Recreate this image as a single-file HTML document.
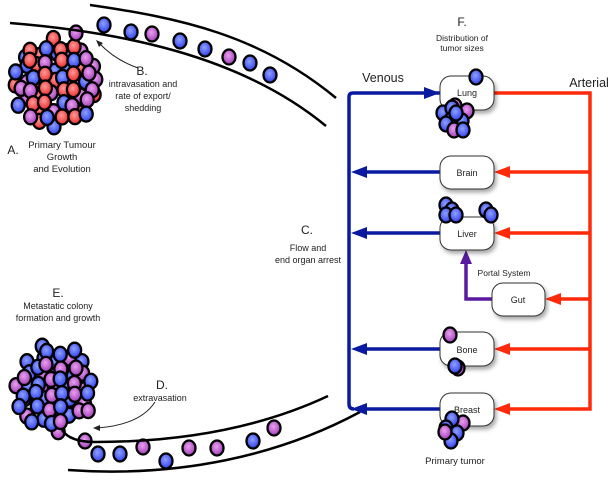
<!DOCTYPE html>
<html><head><meta charset="utf-8"><style>
html,body{margin:0;padding:0;background:#fff;width:614px;height:483px;overflow:hidden}
svg text{font-family:"Liberation Sans",sans-serif;fill:#222}
</style></head><body>
<svg id="s" width="614" height="483" viewBox="0 0 614 483" xmlns="http://www.w3.org/2000/svg">
<defs>
<radialGradient id="gb" cx="0.45" cy="0.4" r="0.6"><stop offset="0" stop-color="#8fa0ff"/><stop offset="1" stop-color="#2f3fee"/></radialGradient>
<radialGradient id="gp" cx="0.45" cy="0.4" r="0.6"><stop offset="0" stop-color="#e9a0f0"/><stop offset="1" stop-color="#a23cb8"/></radialGradient>
<radialGradient id="gr" cx="0.45" cy="0.4" r="0.6"><stop offset="0" stop-color="#ff9a9a"/><stop offset="1" stop-color="#ee2a2a"/></radialGradient>
<filter id="sh" x="-20%" y="-20%" width="150%" height="160%"><feDropShadow dx="2" dy="3" stdDeviation="2" flood-opacity="0.35"/></filter>
</defs>
<g id="cells"></g>
<!-- upper vessel -->
<path d="M90,5 C180,18 260,35 336,98" fill="none" stroke="#000" stroke-width="2.5"/>
<path d="M10,23 C120,32 240,55 326,126" fill="none" stroke="#000" stroke-width="2.5"/>
<!-- lower vessel -->
<path d="M62,430 Q70,442 95,442 Q230,442 328,396" fill="none" stroke="#000" stroke-width="2.5"/>
<path d="M68,470 C180,478 280,455 360,412" fill="none" stroke="#000" stroke-width="2.5"/>
<!-- small arrows -->
<path d="M138,68 Q115,60 99,43" fill="none" stroke="#222" stroke-width="1"/>
<path d="M96,40 L103,43 L99,47 Z" fill="#222"/>
<path d="M155,402 Q140,425 97,428" fill="none" stroke="#222" stroke-width="1"/>
<path d="M93,428 L100,425 L100,431 Z" fill="#222"/>
<!-- venous -->
<g stroke="#0a1aa0" stroke-width="3.5" fill="none">
<path d="M440,93 L353,93 Q349,93 349,97 L349,404 Q349,409 354,409"/>
<line x1="440" y1="172" x2="362" y2="172"/>
<line x1="440" y1="233" x2="362" y2="233"/>
<line x1="440" y1="349" x2="362" y2="349"/>
<line x1="440" y1="409" x2="362" y2="409"/>
</g>
<g fill="#0a1aa0">
<path d="M440,93 L424,87 L424,99 Z"/>
<path d="M351,172 L367,166 L367,178 Z"/>
<path d="M351,233 L367,227 L367,239 Z"/>
<path d="M351,349 L367,343 L367,355 Z"/>
<path d="M351,409 L367,403 L367,415 Z"/>
</g>
<!-- arterial -->
<g stroke="#ff2a0a" stroke-width="3.5" fill="none">
<path d="M494,93 L590,93 L590,409 L505,409"/>
<line x1="590" y1="172" x2="505" y2="172"/>
<line x1="590" y1="233" x2="505" y2="233"/>
<line x1="590" y1="299" x2="556" y2="299"/>
<line x1="590" y1="349" x2="505" y2="349"/>
</g>
<g fill="#ff2a0a">
<path d="M494,172 L510,166 L510,178 Z"/>
<path d="M494,233 L510,227 L510,239 Z"/>
<path d="M545,299 L561,293 L561,305 Z"/>
<path d="M494,349 L510,343 L510,355 Z"/>
<path d="M494,409 L510,403 L510,415 Z"/>
</g>
<!-- portal -->
<path d="M492,299 L466,299 L466,262" fill="none" stroke="#5a1aa0" stroke-width="3.5"/>
<path d="M466,250 L460,264 L472,264 Z" fill="#5a1aa0"/>
<!-- boxes -->
<g fill="#fff" stroke="#333" stroke-width="1" filter="url(#sh)">
<rect x="440" y="76" width="54" height="34" rx="11"/>
<rect x="440" y="156" width="54" height="33" rx="11"/>
<rect x="440" y="217" width="54" height="33" rx="11"/>
<rect x="492" y="283" width="53" height="33" rx="11"/>
<rect x="440" y="332" width="54" height="34" rx="11"/>
<rect x="440" y="393" width="54" height="33" rx="11"/>
</g>
<g font-size="9" text-anchor="middle">
<text x="467" y="96">Lung</text>
<text x="467" y="176">Brain</text>
<text x="467" y="237">Liver</text>
<text x="518" y="303">Gut</text>
<text x="467" y="353">Bone</text>
<text x="467" y="413">Breast</text>
</g>
<g id="cells2"></g>
<!-- labels -->
<g text-anchor="middle">
<text x="383" y="82" font-size="12.5">Venous</text>
<text x="589" y="87" font-size="12.5">Arterial</text>
<text x="462" y="26" font-size="12">F.</text>
<text x="462" y="41" font-size="8.5">Distribution of</text>
<text x="462" y="51" font-size="8.5">tumor sizes</text>
<text x="307" y="234" font-size="12">C.</text>
<text x="308" y="251" font-size="9">Flow and</text>
<text x="308" y="263" font-size="9">end organ arrest</text>
<text x="504" y="276" font-size="8.5">Portal System</text>
<text x="455" y="464" font-size="9.5">Primary tumor</text>
<text x="142" y="75" font-size="12">B.</text>
<text x="143" y="87" font-size="9">intravasation and</text>
<text x="143" y="99" font-size="9">rate of export/</text>
<text x="143" y="111" font-size="9">shedding</text>
<text x="62" y="148" font-size="9.5">Primary Tumour</text>
<text x="62" y="160" font-size="9.5">Growth</text>
<text x="62" y="172" font-size="9.5">and Evolution</text>
<text x="13" y="154" font-size="12">A.</text>
<text x="58" y="297" font-size="12">E.</text>
<text x="58" y="309" font-size="9">Metastatic colony</text>
<text x="58" y="321" font-size="9">formation and growth</text>
<text x="162" y="389" font-size="12">D.</text>
<text x="160" y="401" font-size="9">extravasation</text>
</g>
</svg>
<script>
(function(){
var NS="http://www.w3.org/2000/svg";
function cell(g,x,y,c){var e=document.createElementNS(NS,"ellipse");e.setAttribute("cx",x);e.setAttribute("cy",y);e.setAttribute("rx",6.5);e.setAttribute("ry",7.5);e.setAttribute("fill","url(#g"+c+")");e.setAttribute("stroke","#000");e.setAttribute("stroke-width","2.3");g.appendChild(e);}
var g=document.getElementById("cells"),g2=document.getElementById("cells2");
var seed=7;function rnd(){seed=(seed*9301+49297)%233280;return seed/233280;}
function cluster(cx,cy,R,cols){
 for(var layer=0;layer<2;layer++)
 for(var y=cy-R;y<=cy+R;y+=14)for(var x=cx-R;x<=cx+R;x+=14){
  var ox=x+(layer?7:0)+(rnd()-0.5)*7,oy=y+(layer?7:0)+(rnd()-0.5)*7;
  var dx=ox-cx,dy=oy-cy;if(dx*dx+dy*dy>R*R*(0.85+rnd()*0.3))continue;
  cell(g,ox,oy,cols[Math.floor(rnd()*cols.length)]);
 }}
cluster(56,84,44,["r","p","b","r","p"]);
cluster(56,388,42,["b","p"]);
var up=[[76,33,"p"],[104,25,"b"],[131,32,"b"],[152,34,"p"],[180,41,"b"],[205,49,"b"],[229,57,"p"],[250,63,"b"],[270,75,"b"]];
var lo=[[85,441,"p"],[98,454,"b"],[120,454,"b"],[143,447,"p"],[166,461,"b"],[189,448,"p"],[217,448,"p"],[253,441,"b"],[274,428,"p"]];
up.concat(lo).forEach(function(a){cell(g,a[0],a[1],a[2]);});
var org=[[476,77,"b"],[455,106,"p"],[467,111,"p"],[443,113,"b"],[452,108,"b"],[462,121,"b"],[451,120,"b"],[446,124,"b"],[454,130,"p"],[463,130,"b"],[456,113,"b"],
[446,205,"b"],[452,210,"b"],[446,215,"b"],[456,215,"b"],[486,210,"b"],[491,215,"b"],
[450,335,"p"],[458,368,"p"],[455,366,"b"],
[463,423,"p"],[452,419,"b"],[446,428,"b"],[457,433,"b"],[451,441,"b"],[445,432,"p"]];
org.forEach(function(a){cell(g2,a[0],a[1],a[2]);});
})();
</script>
</body></html>
